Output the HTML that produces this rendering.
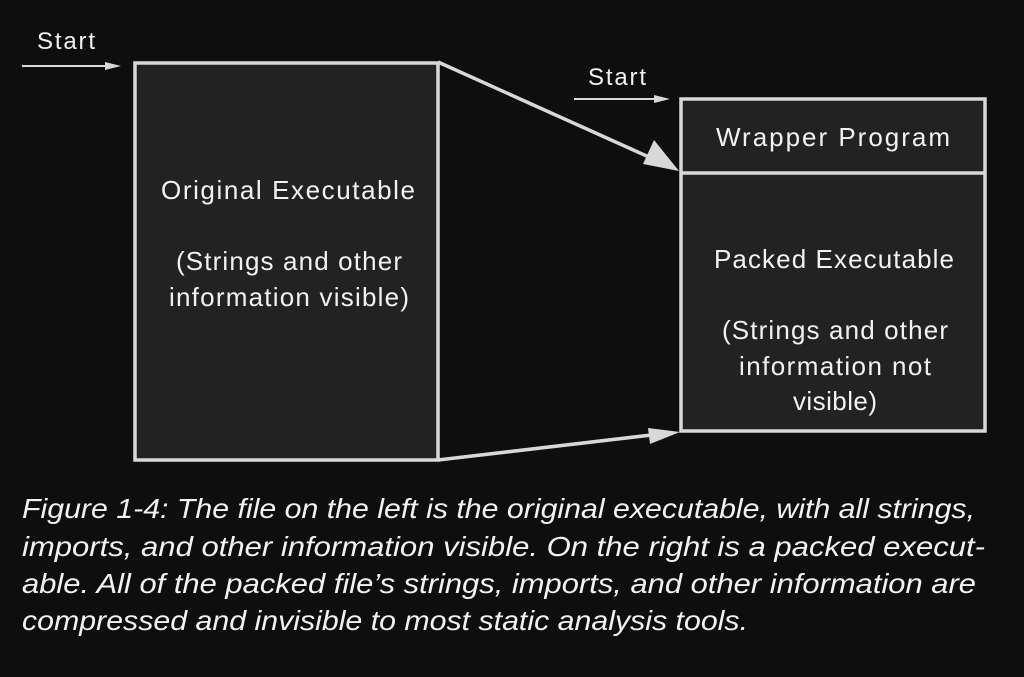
<!DOCTYPE html>
<html><head><meta charset="utf-8"><style>
html,body{margin:0;padding:0;background:#0e0e0e;}
svg{display:block;}
text{font-family:"Liberation Sans",sans-serif;fill:#f2f2f2;}
</style></head><body>
<svg width="1024" height="677" viewBox="0 0 1024 677" xmlns="http://www.w3.org/2000/svg">
<rect width="1024" height="677" fill="#0e0e0e"/>
<!-- left box -->
<rect x="135" y="63" width="303" height="397" fill="#222" stroke="#d8d8d8" stroke-width="3.5"/>
<!-- right box -->
<rect x="681" y="99" width="304" height="332" fill="#222" stroke="#d8d8d8" stroke-width="3.5"/>
<line x1="681" y1="173" x2="985" y2="173" stroke="#d8d8d8" stroke-width="3.5"/>
<!-- diagonals -->
<line x1="438" y1="62" x2="660" y2="162" stroke="#d8d8d8" stroke-width="3.5"/>
<polygon points="679,171 643,164 654,140" fill="#d8d8d8"/>
<line x1="438" y1="460" x2="660" y2="434" stroke="#d8d8d8" stroke-width="3.5"/>
<polygon points="680,432 650,444 648,428" fill="#d8d8d8"/>
<!-- start arrows -->
<line x1="22" y1="66" x2="108" y2="66" stroke="#d8d8d8" stroke-width="2"/>
<polygon points="121,66 105,62 105,70" fill="#d8d8d8"/>
<line x1="574" y1="99" x2="656" y2="99" stroke="#d8d8d8" stroke-width="2"/>
<polygon points="670,99 654,95 654,103" fill="#d8d8d8"/>
<text x="37" y="49" font-size="24" textLength="58">Start</text>
<text x="588" y="85" font-size="24" textLength="58">Start</text>
<!-- left labels -->
<text x="288" y="199" font-size="26" text-anchor="middle" textLength="254">Original Executable</text>
<text x="289" y="270" font-size="26" text-anchor="middle" textLength="226">(Strings and other</text>
<text x="289" y="306" font-size="26" text-anchor="middle" textLength="240">information visible)</text>
<!-- right labels -->
<text x="833" y="146" font-size="26" text-anchor="middle" textLength="234">Wrapper Program</text>
<text x="834" y="268" font-size="26" text-anchor="middle" textLength="240">Packed Executable</text>
<text x="835" y="339" font-size="26" text-anchor="middle" textLength="226">(Strings and other</text>
<text x="835" y="375" font-size="26" text-anchor="middle" textLength="192">information not</text>
<text x="835" y="410" font-size="26" text-anchor="middle" textLength="84">visible)</text>
<!-- caption -->
<g font-style="italic" font-size="28">
<text x="22" y="518" textLength="953" lengthAdjust="spacingAndGlyphs">Figure 1-4: The file on the left is the original executable, with all strings,</text>
<text x="22" y="556" textLength="963" lengthAdjust="spacingAndGlyphs">imports, and other information visible. On the right is a packed execut-</text>
<text x="22" y="593" textLength="954" lengthAdjust="spacingAndGlyphs">able. All of the packed file’s strings, imports, and other information are</text>
<text x="22" y="630" textLength="726" lengthAdjust="spacingAndGlyphs">compressed and invisible to most static analysis tools.</text>
</g>
</svg>
</body></html>
